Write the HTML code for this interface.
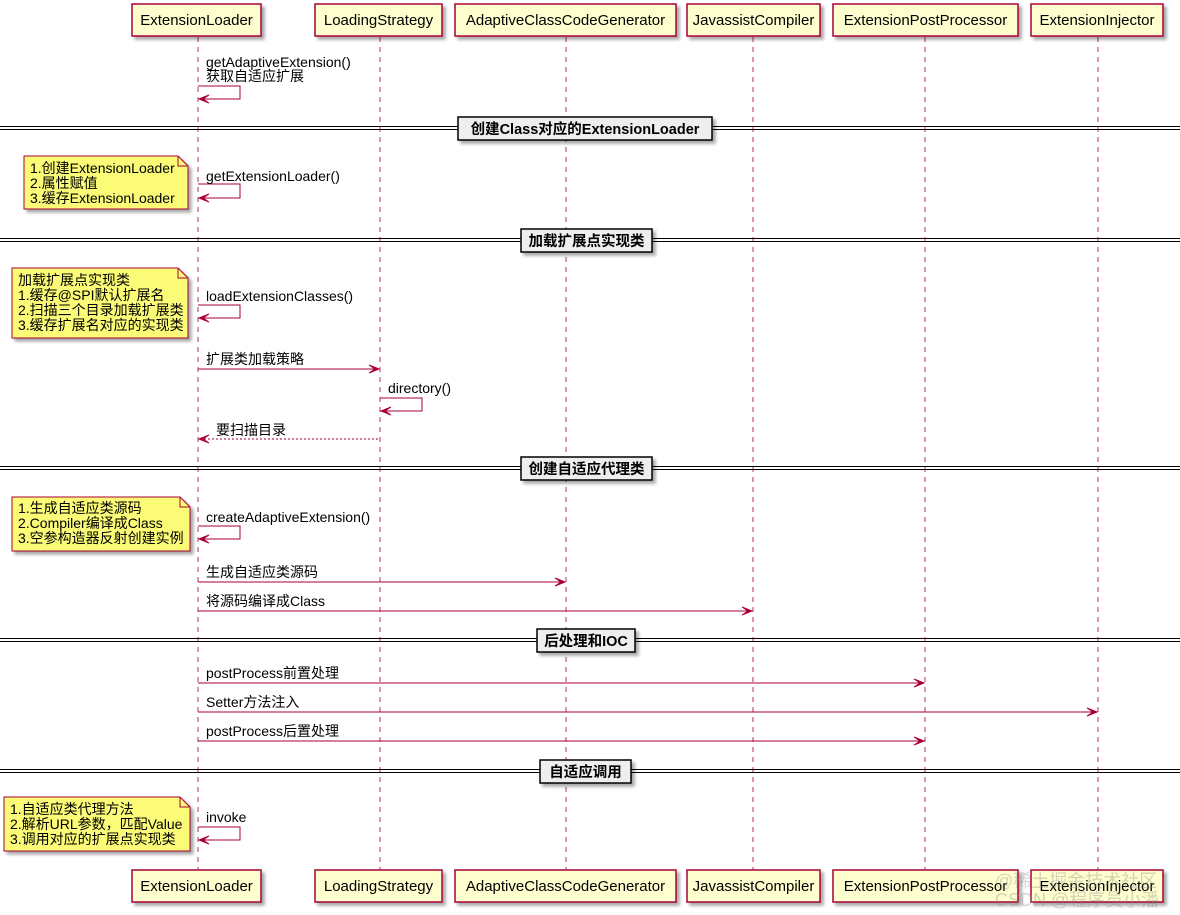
<!DOCTYPE html>
<html><head><meta charset="utf-8"><style>
html,body{margin:0;padding:0;background:#fff;width:1180px;height:915px;overflow:hidden}
svg text{font-family:"Liberation Sans","Noto Sans CJK SC",sans-serif;font-size:14px;fill:#000}
.p{font-size:15px}
.b{font-weight:bold;font-size:14.5px}
</style></head><body>
<svg width="1180" height="915" viewBox="0 0 1180 915" xmlns="http://www.w3.org/2000/svg">
<defs>
<filter id="sh" x="-10%" y="-10%" width="130%" height="150%"><feDropShadow dx="3" dy="3" stdDeviation="1.5" flood-color="#000" flood-opacity="0.35"/></filter>
</defs>
<g stroke="#A80036" stroke-width="1" stroke-dasharray="5,5" opacity="0.8">
<line x1="198" y1="37" x2="198" y2="870"/>
<line x1="380" y1="37" x2="380" y2="870"/>
<line x1="566" y1="37" x2="566" y2="870"/>
<line x1="753" y1="37" x2="753" y2="870"/>
<line x1="925" y1="37" x2="925" y2="870"/>
<line x1="1098" y1="37" x2="1098" y2="870"/>
</g>
<g fill="#FEFECE" stroke="#A80036" stroke-width="1.5" filter="url(#sh)">
<rect x="132" y="4" width="129" height="32"/><rect x="315" y="4" width="127" height="32"/>
<rect x="455" y="4" width="221" height="32"/><rect x="687" y="4" width="133" height="32"/>
<rect x="833" y="4" width="185" height="32"/><rect x="1031" y="4" width="132" height="32"/>
<rect x="132" y="870" width="129" height="32"/><rect x="315" y="870" width="127" height="32"/>
<rect x="455" y="870" width="221" height="32"/><rect x="687" y="870" width="133" height="32"/>
<rect x="833" y="870" width="185" height="32"/><rect x="1031" y="870" width="132" height="32"/>
</g>
<g text-anchor="middle" class="p">
<text class="p" x="196.5" y="25">ExtensionLoader</text><text class="p" x="378.5" y="25">LoadingStrategy</text>
<text class="p" x="565.5" y="25">AdaptiveClassCodeGenerator</text><text class="p" x="753.5" y="25">JavassistCompiler</text>
<text class="p" x="925.5" y="25">ExtensionPostProcessor</text><text class="p" x="1097" y="25">ExtensionInjector</text>
<text class="p" x="196.5" y="891">ExtensionLoader</text><text class="p" x="378.5" y="891">LoadingStrategy</text>
<text class="p" x="565.5" y="891">AdaptiveClassCodeGenerator</text><text class="p" x="753.5" y="891">JavassistCompiler</text>
<text class="p" x="925.5" y="891">ExtensionPostProcessor</text><text class="p" x="1097" y="891">ExtensionInjector</text>
</g>
<g stroke="#000" stroke-width="1">
<line x1="0" y1="126.5" x2="1180" y2="126.5"/><line x1="0" y1="129.5" x2="1180" y2="129.5"/>
<line x1="0" y1="238.5" x2="1180" y2="238.5"/><line x1="0" y1="241.5" x2="1180" y2="241.5"/>
<line x1="0" y1="466.5" x2="1180" y2="466.5"/><line x1="0" y1="469.5" x2="1180" y2="469.5"/>
<line x1="0" y1="638.5" x2="1180" y2="638.5"/><line x1="0" y1="641.5" x2="1180" y2="641.5"/>
<line x1="0" y1="769.5" x2="1180" y2="769.5"/><line x1="0" y1="772.5" x2="1180" y2="772.5"/>
</g>
<g fill="#EEEEEE" stroke="#000" stroke-width="1.5" filter="url(#sh)">
<rect x="458" y="117" width="254" height="23"/>
<rect x="521" y="229" width="131" height="23"/>
<rect x="521" y="457" width="131" height="23"/>
<rect x="537" y="629" width="98" height="23"/>
<rect x="540" y="760" width="91" height="23"/>
</g>
<g text-anchor="middle">
<text class="b" x="585" y="134">创建Class对应的ExtensionLoader</text>
<text class="b" x="586.5" y="246">加载扩展点实现类</text>
<text class="b" x="586.5" y="474">创建自适应代理类</text>
<text class="b" x="586" y="646">后处理和IOC</text>
<text class="b" x="585.5" y="777">自适应调用</text>
</g>
<g fill="#FBFB77" stroke="#A80036" stroke-width="1" filter="url(#sh)">
<path d="M24,156 H178 L188,166 V209 H24 Z"/>
<path d="M12,268 H178 L188,278 V338 H12 Z"/>
<path d="M12,497 H180 L190,507 V551 H12 Z"/>
<path d="M4,797 H180 L190,807 V851 H4 Z"/>
</g>
<g fill="none" stroke="#A80036" stroke-width="1">
<path d="M178,156 V166 H188"/><path d="M178,268 V278 H188"/><path d="M180,497 V507 H190"/><path d="M180,797 V807 H190"/>
</g>
<g>
<text x="30" y="173">1.创建ExtensionLoader</text><text x="30" y="188">2.属性赋值</text><text x="30" y="203">3.缓存ExtensionLoader</text>
<text x="18" y="285">加载扩展点实现类</text><text x="18" y="300">1.缓存@SPI默认扩展名</text><text x="18" y="315">2.扫描三个目录加载扩展类</text><text x="18" y="330">3.缓存扩展名对应的实现类</text>
<text x="18" y="513">1.生成自适应类源码</text><text x="18" y="528">2.Compiler编译成Class</text><text x="18" y="543">3.空参构造器反射创建实例</text>
<text x="10" y="814">1.自适应类代理方法</text><text x="10" y="829">2.解析URL参数，匹配Value</text><text x="10" y="844">3.调用对应的扩展点实现类</text>
</g>
<g fill="none" stroke="#A80036" stroke-width="1">
<path d="M198,86 H240 V99 H200"/>
<path d="M198,184 H240 V198 H200"/>
<path d="M198,305 H240 V318 H200"/>
<path d="M380,398 H422 V411 H382"/>
<path d="M198,526 H240 V539 H200"/>
<path d="M198,827 H240 V840 H200"/>
<line x1="198" y1="369" x2="378" y2="369"/>
<line x1="200" y1="439" x2="380" y2="439" stroke-dasharray="2,2"/>
<line x1="198" y1="582" x2="564" y2="582"/>
<line x1="198" y1="611" x2="751" y2="611"/>
<line x1="198" y1="683" x2="923" y2="683"/>
<line x1="198" y1="712" x2="1096" y2="712"/>
<line x1="198" y1="741" x2="923" y2="741"/>
</g>
<g fill="#A80036" stroke="#A80036" stroke-width="1">
<path d="M199,99 l10,-4 l-6,4 l6,4 z"/>
<path d="M199,198 l10,-4 l-6,4 l6,4 z"/>
<path d="M199,318 l10,-4 l-6,4 l6,4 z"/>
<path d="M381,411 l10,-4 l-6,4 l6,4 z"/>
<path d="M199,539 l10,-4 l-6,4 l6,4 z"/>
<path d="M199,840 l10,-4 l-6,4 l6,4 z"/>
<path d="M199,439 l10,-4 l-6,4 l6,4 z"/>
<path d="M379,369 l-10,-4 l6,4 l-6,4 z"/>
<path d="M565,582 l-10,-4 l6,4 l-6,4 z"/>
<path d="M752,611 l-10,-4 l6,4 l-6,4 z"/>
<path d="M924,683 l-10,-4 l6,4 l-6,4 z"/>
<path d="M1097,712 l-10,-4 l6,4 l-6,4 z"/>
<path d="M924,741 l-10,-4 l6,4 l-6,4 z"/>
</g>
<g>
<text x="206" y="67">getAdaptiveExtension()</text><text x="206" y="81">获取自适应扩展</text>
<text x="206" y="181">getExtensionLoader()</text>
<text x="206" y="301">loadExtensionClasses()</text>
<text x="206" y="364">扩展类加载策略</text>
<text x="388" y="393">directory()</text>
<text x="216" y="435">要扫描目录</text>
<text x="206" y="522">createAdaptiveExtension()</text>
<text x="206" y="577">生成自适应类源码</text>
<text x="206" y="606">将源码编译成Class</text>
<text x="206" y="678">postProcess前置处理</text>
<text x="206" y="707">Setter方法注入</text>
<text x="206" y="736">postProcess后置处理</text>
<text x="206" y="822">invoke</text>
</g>
<g opacity="0.35"><text x="995" y="887" style="font-size:18px;fill:#888">@稀土掘金技术社区</text><text x="995" y="906" style="font-size:18px;fill:#888">CSDN @程序员小潘</text></g>
</svg>
</body></html>
